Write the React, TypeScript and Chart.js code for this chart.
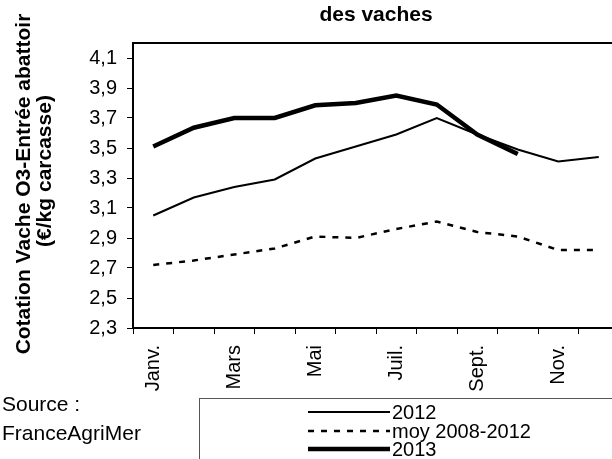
import React, { useEffect, useRef } from 'react';
import { Chart, registerables } from 'chart.js';

Chart.register(...registerables);

const MONTHS = ['Janv.', 'Févr.', 'Mars', 'Avr.', 'Mai', 'Juin', 'Juil.', 'Août', 'Sept.', 'Oct.', 'Nov.', 'Déc.'];
const SHOWN_MONTHS = ['Janv.', 'Mars', 'Mai', 'Juil.', 'Sept.', 'Nov.'];
const SERIES_2012 = [3.05, 3.17, 3.24, 3.29, 3.43, 3.51, 3.59, 3.70, 3.59, 3.49, 3.41, 3.44];
const SERIES_MOY = [2.72, 2.75, 2.79, 2.83, 2.91, 2.90, 2.96, 3.01, 2.94, 2.91, 2.82, 2.82];
const SERIES_2013 = [3.51, 3.635, 3.70, 3.70, 3.785, 3.80, 3.85, 3.79, 3.59, 3.46];
const Y_TICKS = [2.3, 2.5, 2.7, 2.9, 3.1, 3.3, 3.5, 3.7, 3.9, 4.1];
const Y_MIN = 2.3;
const Y_MAX = 4.2;
const TITLE = 'des vaches';
const Y_TITLE = ['Cotation Vache O3-Entrée abattoir', '(€/kg carcasse)'];
const SOURCE = ['Source :', 'FranceAgriMer'];
const LABELS = ['2012', 'moy 2008-2012', '2013'];

const W = 640;
const H = 459;
const FONT = "'Liberation Sans', Arial, sans-serif";

const decorPlugin = {
  id: 'decor',
  afterDraw(chart: any) {
    const { ctx, chartArea: a } = chart;
    ctx.save();
    ctx.strokeStyle = '#000';
    ctx.lineWidth = 2;
    ctx.strokeRect(a.left, a.top, a.right - a.left, a.bottom - a.top);

    ctx.fillStyle = '#000';
    ctx.font = `bold 21px ${FONT}`;
    ctx.textAlign = 'center';
    ctx.textBaseline = 'middle';
    ctx.fillText(TITLE, (a.left + a.right) / 2, 15);

    ctx.save();
    ctx.translate(24, 184);
    ctx.rotate(-Math.PI / 2);
    ctx.fillText(Y_TITLE[0], 0, 0);
    ctx.restore();
    ctx.save();
    ctx.translate(45, 171);
    ctx.rotate(-Math.PI / 2);
    ctx.fillText(Y_TITLE[1], 0, 0);
    ctx.restore();

    ctx.font = `21px ${FONT}`;
    ctx.textAlign = 'left';
    ctx.textBaseline = 'alphabetic';
    ctx.fillText(SOURCE[0], 2, 411);
    ctx.fillText(SOURCE[1], 2, 440);

    ctx.lineWidth = 1;
    ctx.strokeStyle = '#555';
    ctx.strokeRect(199.5, 398.5, 600, 100);

    const rows = [412, 431, 449];
    chart.data.datasets.forEach((ds: any, i: number) => {
      ctx.save();
      ctx.strokeStyle = '#000';
      ctx.lineWidth = ds.borderWidth;
      ctx.setLineDash(ds.borderDash || []);
      ctx.lineCap = 'butt';
      ctx.beginPath();
      ctx.moveTo(308, rows[i]);
      ctx.lineTo(390, rows[i]);
      ctx.stroke();
      ctx.restore();
      ctx.font = `20px ${FONT}`;
      ctx.textBaseline = 'middle';
      ctx.fillText(ds.label, 392, rows[i] + 1);
    });
    ctx.restore();
  },
};

export default function App() {
  const ref = useRef<HTMLCanvasElement>(null);
  useEffect(() => {
    if (!ref.current) return;
    const chart = new Chart(ref.current, {
      type: 'line',
      data: {
        labels: MONTHS,
        datasets: [
          { label: LABELS[0], data: SERIES_2012, borderColor: '#000', borderWidth: 2, pointRadius: 0, order: 1, tension: 0 },
          { label: LABELS[1], data: SERIES_MOY, borderColor: '#000', borderWidth: 2.5, borderDash: [6, 7], pointRadius: 0, order: 2, tension: 0 },
          { label: LABELS[2], data: SERIES_2013, borderColor: '#000', borderWidth: 4.5, pointRadius: 0, order: 0, tension: 0 },
        ],
      },
      options: {
        responsive: false,
        animation: false,
        devicePixelRatio: 1,
        layout: { padding: { top: 43, right: W - 619, left: 0, bottom: 0 } },
        plugins: { legend: { display: false }, title: { display: false }, tooltip: { enabled: false } },
        scales: {
          x: {
            offset: true,
            grid: { display: true, drawOnChartArea: false, drawTicks: true, tickLength: 6, color: '#000', offset: true },
            border: { display: false },
            ticks: {
              autoSkip: false,
              minRotation: 90,
              maxRotation: 90,
              padding: 11,
              color: '#000',
              font: { family: FONT, size: 20 },
              callback: (_v: any, i: number) => (SHOWN_MONTHS.includes(MONTHS[i]) ? MONTHS[i] : ''),
            },
            afterFit: (s: any) => { s.height = H - 328; },
          },
          y: {
            min: Y_MIN,
            max: Y_MAX,
            grid: { display: true, drawOnChartArea: false, drawTicks: true, tickLength: 6, color: '#000' },
            border: { display: false },
            afterBuildTicks: (s: any) => { s.ticks = Y_TICKS.map((v) => ({ value: v })); },
            ticks: {
              padding: 10,
              color: '#000',
              font: { family: FONT, size: 20 },
              callback: (v: any) => Number(v).toFixed(1).replace('.', ','),
            },
            afterFit: (s: any) => { s.width = 133; },
          },
        },
      },
      plugins: [decorPlugin],
    });
    return () => chart.destroy();
  }, []);
  return (
    <div style={{ position: 'fixed', left: 0, top: 0, width: 612, height: 459, overflow: 'hidden', background: '#fff' }}>
      <canvas ref={ref} width={W} height={H} style={{ width: W, height: H, display: 'block' }} />
    </div>
  );
}
